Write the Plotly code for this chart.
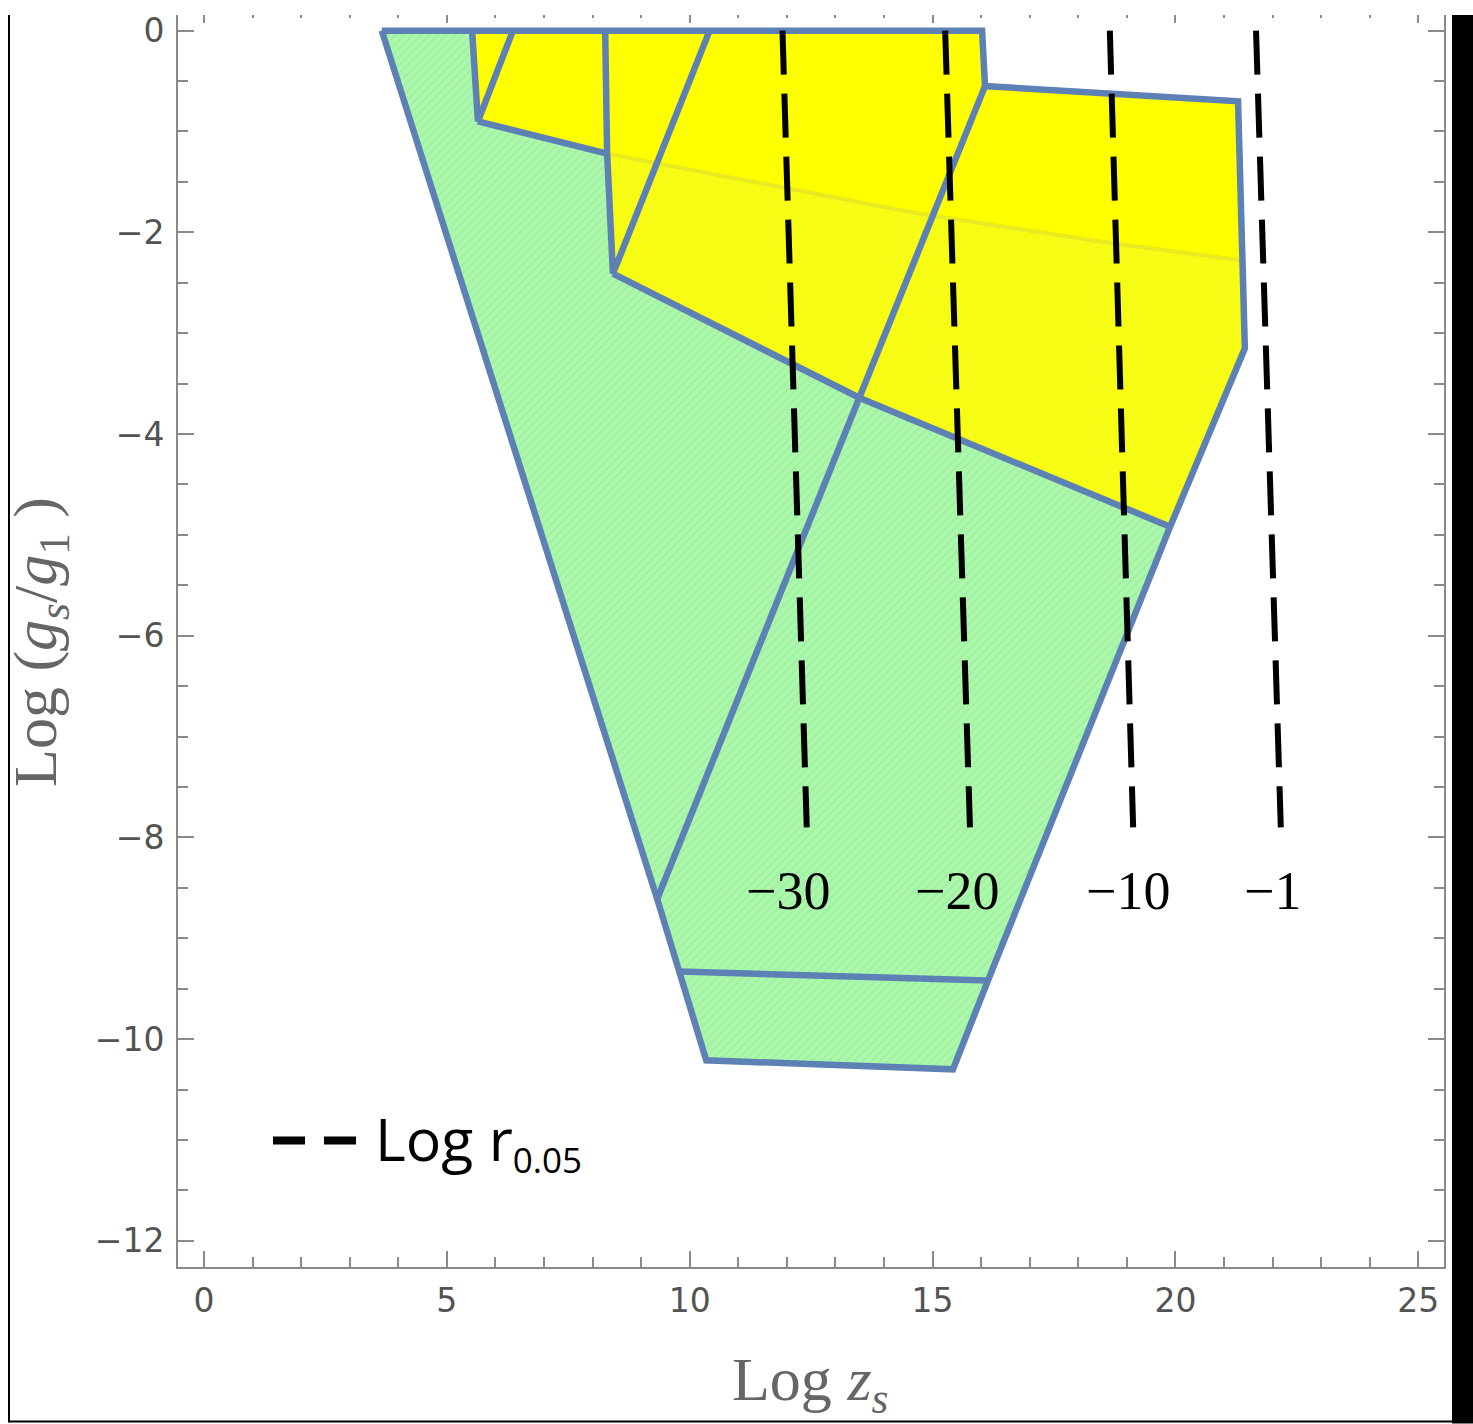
import plotly.graph_objects as go

# ---------------- data ----------------
# green region (lower / left part)
green_x = [3.66, 5.52, 5.64, 8.30, 8.42, 13.49, 19.89, 16.14, 15.42, 10.34, 9.80, 9.33, 3.66]
green_y = [0.0, 0.0, -0.90, -1.22, -2.41, -3.64, -4.92, -9.42, -10.30, -10.21, -9.33, -8.61, 0.0]

# faint curve inside the yellow region
faint_x = [8.30, 11.92, 14.68, 18.45, 21.38]
faint_y = [-1.22, -1.55, -1.81, -2.09, -2.28]

# yellow region, upper part (above faint curve)
yel_up_x = [5.52, 16.02, 16.08, 21.29, 21.38, 18.45, 14.68, 11.92, 8.30, 5.64, 5.52]
yel_up_y = [0.0, 0.0, -0.55, -0.70, -2.28, -2.09, -1.81, -1.55, -1.22, -0.90, 0.0]

# yellow region, lower part (below faint curve)
yel_lo_x = [8.30, 11.92, 14.68, 18.45, 21.38, 21.43, 19.89, 13.49, 8.42, 8.30]
yel_lo_y = [-1.22, -1.55, -1.81, -2.09, -2.28, -3.15, -4.92, -3.64, -2.41, -1.22]

# region boundaries (polylines)
outer_x = [3.66, 16.02, 16.08, 21.29, 21.43, 19.89, 16.14, 15.42, 10.34, 9.80, 9.33, 3.66]
outer_y = [0.0, 0.0, -0.55, -0.70, -3.15, -4.92, -9.42, -10.30, -10.21, -9.33, -8.61, 0.0]
diag_x = [9.33, 16.08]
diag_y = [-8.61, -0.55]
horiz_x = [9.80, 16.14]
horiz_y = [-9.33, -9.42]
bound_a_x = [5.64, 8.30]
bound_a_y = [-0.90, -1.22]
bound_b_x = [8.42, 13.49, 19.89]
bound_b_y = [-2.41, -3.64, -4.92]
notch1_x = [5.52, 5.64, 6.36]
notch1_y = [0.0, -0.90, 0.0]
notch2_x = [8.26, 8.30, 8.42, 10.41]
notch2_y = [0.0, -1.22, -2.41, 0.0]
edges = [(outer_x, outer_y), (diag_x, diag_y), (horiz_x, horiz_y),
         (bound_a_x, bound_a_y), (bound_b_x, bound_b_y),
         (notch1_x, notch1_y), (notch2_x, notch2_y)]

# Log r_0.05 contour lines
r_levels = ["\u221230", "\u221220", "\u221210", "\u22121"]
r_x_top = [11.91, 15.26, 18.65, 21.66]
r_x_bot = [12.41, 15.77, 19.13, 22.17]
r_y_top = 0.0
r_y_bot = -7.9
r_label_x = [12.02, 15.50, 19.02, 21.99]
r_label_y = -8.53

# axes
x_range = [-0.535, 25.53]
y_range = [-12.26, 0.155]

# ---------------- figure ----------------
EDGE = "#5e81b5"
AXC = "#8a8a8a"
TICKFONT = dict(family="DejaVu Sans", size=33, color="#535353")

fig = go.Figure()

fig.add_trace(go.Scatter(
    x=green_x, y=green_y, mode="lines", fill="toself",
    fillcolor="#a9f5a9", line=dict(width=0, color="#a9f5a9"),
    fillpattern=dict(shape="/", fgcolor="#86ef86", bgcolor="#adf6ad", size=6, solidity=0.25),
    hoverinfo="skip", showlegend=False))
fig.add_trace(go.Scatter(
    x=yel_up_x, y=yel_up_y, mode="lines", fill="toself",
    fillcolor="#ffff00", line=dict(width=0, color="#ffff00"),
    hoverinfo="skip", showlegend=False))
fig.add_trace(go.Scatter(
    x=yel_lo_x, y=yel_lo_y, mode="lines", fill="toself",
    fillcolor="#f7fc14", line=dict(width=0, color="#f7fc14"),
    hoverinfo="skip", showlegend=False))
fig.add_trace(go.Scatter(
    x=faint_x, y=faint_y, mode="lines",
    line=dict(width=4, color="rgba(215,215,40,0.5)"),
    hoverinfo="skip", showlegend=False))

ex, ey = [], []
for xs, ys in edges:
    ex += list(xs) + [None]
    ey += list(ys) + [None]
fig.add_trace(go.Scatter(
    x=ex, y=ey, mode="lines", line=dict(width=6.5, color=EDGE),
    hoverinfo="skip", showlegend=False))

for lab, xt, xb, lx in zip(r_levels, r_x_top, r_x_bot, r_label_x):
    fig.add_trace(go.Scatter(
        x=[xt, xb], y=[r_y_top, r_y_bot], mode="lines",
        line=dict(width=6, color="black", dash="44px,19px"),
        hoverinfo="skip", showlegend=False))
    fig.add_annotation(x=lx, y=r_label_y, xref="x", yref="y", text=lab,
                       showarrow=False, xanchor="center", yanchor="middle",
                       font=dict(family="Liberation Serif", size=54, color="black"))

# empty trace for mirrored axes
fig.add_trace(go.Scatter(x=[], y=[], xaxis="x2", yaxis="y2", showlegend=False))

common = dict(showgrid=False, zeroline=False, tickwidth=2, tickcolor=AXC)
fig.update_layout(
    width=1473, height=1424,
    margin=dict(l=178, r=29, t=11, b=157),
    plot_bgcolor="white", paper_bgcolor="white", showlegend=False,
    xaxis=dict(range=x_range, tickmode="linear", tick0=0, dtick=5,
               ticks="inside", ticklen=16, showline=True, linecolor=AXC, linewidth=2,
               tickfont=TICKFONT, ticklabelstandoff=3,
               minor=dict(ticks="inside", ticklen=10, tickwidth=2, tickcolor=AXC,
                          tick0=0, dtick=1, showgrid=False), **common),
    yaxis=dict(range=y_range, tickmode="linear", tick0=0, dtick=2,
               ticks="inside", ticklen=16, showline=True, linecolor=AXC, linewidth=2,
               tickfont=TICKFONT, ticklabelstandoff=5,
               minor=dict(ticks="inside", ticklen=10, tickwidth=2, tickcolor=AXC,
                          tick0=0, dtick=0.5, showgrid=False), **common),
    xaxis2=dict(range=x_range, overlaying="x", side="top", anchor="y2",
                tickmode="linear", tick0=0, dtick=5, ticks="inside", ticklen=8,
                showticklabels=False, showline=False,
                minor=dict(ticks="inside", ticklen=3, tickwidth=2, tickcolor=AXC,
                           tick0=0, dtick=1, showgrid=False), **common),
    yaxis2=dict(range=y_range, overlaying="y", side="right", anchor="x2",
                tickmode="linear", tick0=0, dtick=2, ticks="inside", ticklen=16,
                showticklabels=False, showline=True, linecolor=AXC, linewidth=2,
                minor=dict(ticks="inside", ticklen=10, tickwidth=2, tickcolor=AXC,
                           tick0=0, dtick=0.5, showgrid=False), **common),
)

# pixel -> paper helpers for decorations
PL, PR, PT, PB = 178, 1444, 11, 1267
def px(x):
    return (x - PL) / (PR - PL)
def py(y):
    return (PB - y) / (PB - PT)

# axis titles
fig.add_annotation(x=px(810), y=py(1384), xref="paper", yref="paper",
                   text="Log <i>z</i><sub><i>s</i></sub>", showarrow=False,
                   xanchor="center", yanchor="middle",
                   font=dict(family="Liberation Serif", size=62, color="#666666"))
fig.add_annotation(x=px(40), y=py(640), xref="paper", yref="paper",
                   text="Log (<i>g</i><sub><i>s</i></sub>/<i>g</i><sub>1</sub> )",
                   textangle=-90, showarrow=False, xanchor="center", yanchor="middle",
                   font=dict(family="Liberation Serif", size=62, color="#666666"))

# legend
fig.add_shape(type="line", xref="paper", yref="paper",
              x0=px(273), x1=px(357), y0=py(1140), y1=py(1140),
              line=dict(color="black", width=8, dash="32px,19px"))
fig.add_annotation(x=px(373), y=py(1140), xref="paper", yref="paper",
                   text="Log r<sub><span style=\"font-size:35px\">0.05</span></sub>",
                   showarrow=False, xanchor="left", yanchor="middle",
                   font=dict(family="Open Sans", size=59, color="black"))

# outer frame of the image
fig.add_shape(type="line", xref="paper", yref="paper",
              x0=px(9), x1=px(9), y0=py(11), y1=py(1423),
              line=dict(color="black", width=2))
fig.add_shape(type="line", xref="paper", yref="paper",
              x0=px(9), x1=px(1452), y0=py(1422), y1=py(1422),
              line=dict(color="black", width=2))
fig.add_shape(type="rect", xref="paper", yref="paper",
              x0=px(1452), x1=px(1473), y0=py(11), y1=py(1424),
              line=dict(width=0), fillcolor="black")

fig.write_html("out.html", config={"displayModeBar": False},
               post_script="document.body.style.margin='0';document.body.style.overflow='hidden';")
